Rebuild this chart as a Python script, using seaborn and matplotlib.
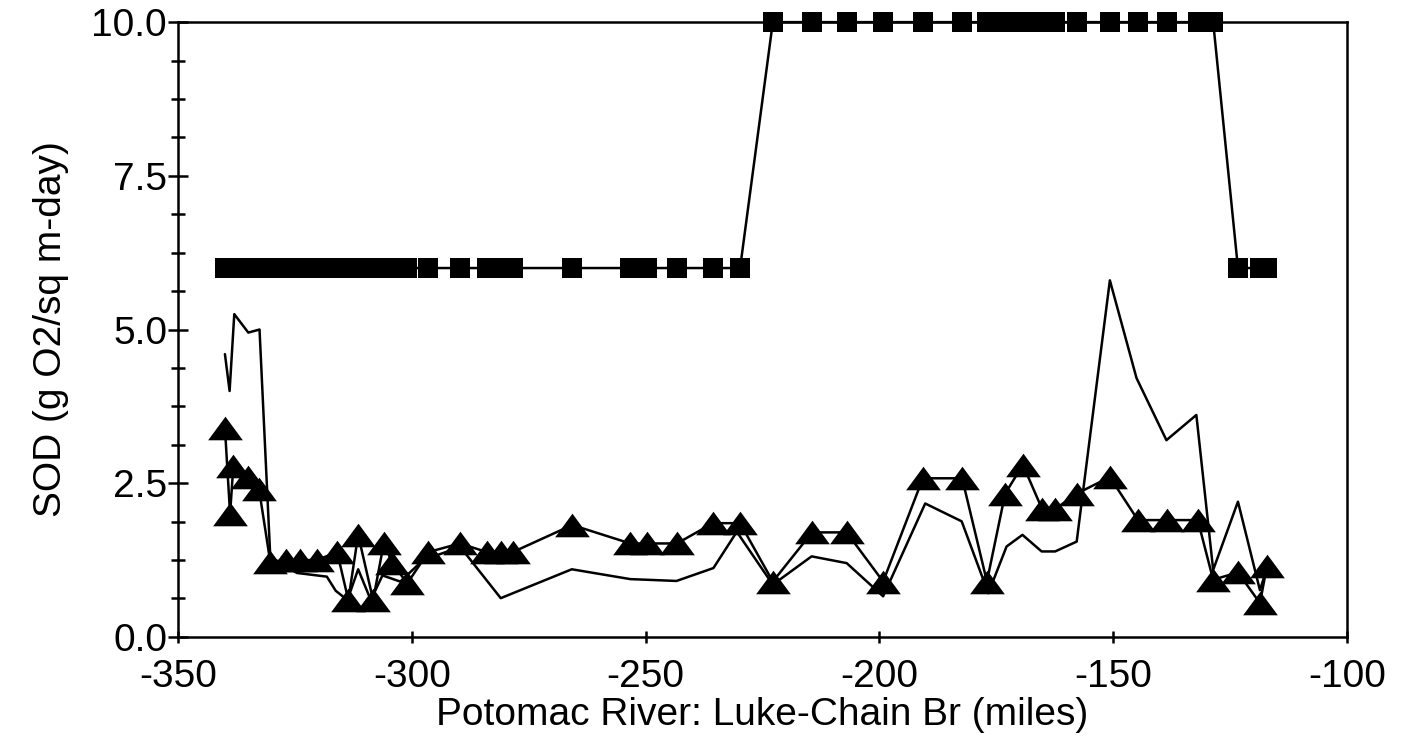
import numpy as np
import pandas as pd
import matplotlib
matplotlib.use("Agg")
import matplotlib.pyplot as plt
import seaborn as sns
from matplotlib.path import Path
from matplotlib.ticker import AutoMinorLocator

# station positions (river miles), shared by the marked series
station_x = [-340, -338.9, -338.2, -335, -332.7, -330.3, -327, -324, -320.3,
             -316, -313.6, -311.5, -308.3, -306, -304.2, -301, -296.5,
             -289.7, -284, -281, -278.4, -265.7, -253.3, -249.7, -243.3,
             -235.6, -229.8, -222.8, -214.4, -207, -199.2, -190.7, -182.3,
             -177, -173.1, -169.3, -165.2, -162.4, -157.8, -150.7, -144.7,
             -138.5, -131.9, -128.6, -123.3, -118.6, -117.1]

# observed SOD (triangles)
tri_y = [3.4, 2.0, 2.78, 2.6, 2.4, 1.22, 1.25, 1.25, 1.25, 1.38, 0.6, 1.66,
         0.6, 1.53, 1.2, 0.87, 1.38, 1.52, 1.38, 1.38, 1.38, 1.82, 1.52,
         1.52, 1.52, 1.85, 1.85, 0.9, 1.7, 1.7, 0.9, 2.58, 2.58, 0.9, 2.33,
         2.8, 2.08, 2.08, 2.33, 2.6, 1.9, 1.9, 1.9, 0.93, 1.05, 0.55, 1.15]

# model SOD setting (squares)
sq_y = [6.0] * 27 + [10.0] * 17 + [6.0] * 3

# computed SOD (plain line)
thin_x = [-340, -339, -338, -335, -332.6, -330.3, -324.6, -318.2, -316.3,
          -313.8, -311.5, -308.8, -306.3, -302.5, -297.6, -292, -289, -281,
          -265.8, -253.3, -243.4, -235.5, -230.5, -222.8, -214.5, -207,
          -199.2, -190.2, -182.4, -176.7, -172.8, -169.4, -165.3, -162.4,
          -157.8, -150.7, -145, -138.6, -132.2, -128.6, -123.3, -118.6,
          -117.8]
thin_y = [4.6, 4.0, 5.25, 4.95, 5.0, 1.3, 1.04, 0.98, 0.75, 0.6, 1.1, 0.6,
          1.0, 0.9, 1.25, 1.4, 1.4, 0.63, 1.1, 0.94, 0.91, 1.12, 1.71, 0.85,
          1.31, 1.2, 0.66, 2.17, 1.88, 0.71, 1.47, 1.66, 1.39, 1.39, 1.55,
          5.8, 4.21, 3.2, 3.61, 1.09, 2.2, 0.76, 0.95]

sns.set_theme(style="white")
plt.rcParams["font.family"] = ["Liberation Sans", "DejaVu Sans"]
plt.rcParams["axes.unicode_minus"] = False
plt.rcParams["text.color"] = "black"
plt.rcParams["axes.labelcolor"] = "black"
plt.rcParams["xtick.color"] = "black"
plt.rcParams["ytick.color"] = "black"

fig = plt.figure(figsize=(14.03, 7.38), dpi=100)
ax = fig.add_axes([0.127, 0.137, 0.833, 0.833])

# wide, flat triangle like the original plotter symbol
tri = Path([(-1, -0.68), (1, -0.68), (0, 0.68), (-1, -0.68)],
           [Path.MOVETO, Path.LINETO, Path.LINETO, Path.CLOSEPOLY])

sns.lineplot(x=thin_x, y=thin_y, ax=ax, color="black", lw=1.8,
             sort=False, estimator=None)
sns.lineplot(x=station_x, y=tri_y, ax=ax, color="black", lw=1.8,
             marker=tri, markersize=25, markeredgewidth=0,
             sort=False, estimator=None)
sns.lineplot(x=station_x, y=sq_y, ax=ax, color="black", lw=1.8,
             marker="s", markersize=15, markeredgewidth=0,
             sort=False, estimator=None, clip_on=False)

ax.set_xlim(-350, -100)
ax.set_ylim(0, 10)
ax.set_xticks([-350, -300, -250, -200, -150, -100])
ax.set_yticks([0, 2.5, 5.0, 7.5, 10.0])
ax.set_yticklabels(["0.0", "2.5", "5.0", "7.5", "10.0"])
ax.yaxis.set_minor_locator(AutoMinorLocator(4))

ax.tick_params(axis="y", which="major", direction="inout", length=14,
               width=1.8, labelsize=28, pad=1, left=True)
ax.tick_params(axis="y", which="minor", direction="inout", length=10,
               width=1.8, left=True)
ax.tick_params(axis="x", which="major", direction="inout", length=8,
               width=1.8, labelsize=28, pad=12, bottom=True)

for s in ax.spines.values():
    s.set_color("black")
    s.set_linewidth(1.8)

ax.set_xlabel("Potomac River: Luke-Chain Br (miles)", fontsize=28, labelpad=1)
ax.set_ylabel("SOD (g O2/sq m-day)", fontsize=28, labelpad=16)

fig.savefig("out.png", dpi=100)
